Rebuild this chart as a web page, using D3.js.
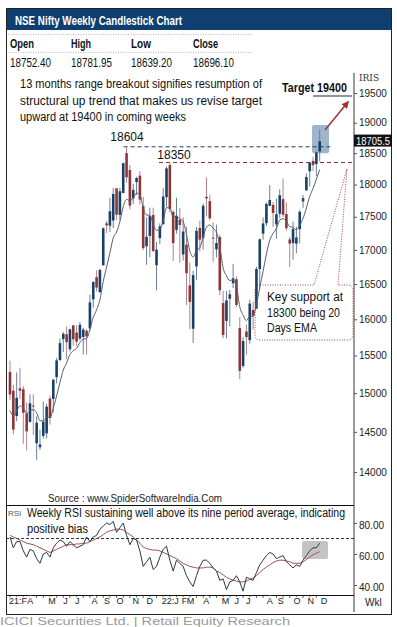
<!DOCTYPE html>
<html><head><meta charset="utf-8">
<script src="https://cdn.jsdelivr.net/npm/d3@7"></script>
<style>body{margin:0;background:#fff;overflow:hidden}svg{display:block}</style>
</head><body>
<svg id="c" width="397" height="627"></svg>
<script>
// ---- data (weekly Nifty, Feb-2021 .. Dec-2022) ----
const open = [15280,15031,14702,15064,15050,14736,14628,14837,14356,14306,
14449,14481,14928,14924,15211,15437,15725,15791,15587,15915,
15814,15733,15755,15840,15874,16281,16600,16384,16775,17400,
17363,17443,17941,17531,17867,18500,18230,17784,18040,18140,
17668,17055,17209,17528,16774,17177,17387,17804,18308,17575,
17301,17456,16933,17079,16481,15868,16757,17329,17181,17809,
17740,17183,17009,17193,16227,15977,16290,16512,16570,15877,
15360,15831,15710,16130,16151,16719,17244,17402,17669,17683,
17384,17546,17772,17541,17156,17102,17094,17311,17737,17910,
18211,18376,18326,18528];
const high = [15431,15111,15273,15336,15092,14878,14984,14984,14697,14527,
14890,14863,14967,15189,15469,15733,15823,15901,15870,15915,
15915,15962,15881,15862,16349,16543,16701,16722,17340,17436,
17793,17947,17943,17948,18350,18604,18310,18012,18123,18210,
17806,17490,17640,17639,17118,17400,17944,18286,18350,17599,
17794,17639,17490,17352,16816,16694,17345,17442,17703,18114,
17842,17414,17380,17226,16404,16400,16414,16794,16610,16030,
15750,15927,16275,16249,16752,17172,17490,17719,17992,17727,
17777,17925,18096,17722,17196,17428,17348,17607,17838,18176,
18362,18443,18534,18887];
const low = [14906,14468,14635,14919,14350,14264,14616,14460,14151,14273,
14416,14417,14592,14746,15127,15437,15550,15450,15555,15635,
15632,15707,15514,15513,15835,16163,16395,16376,16765,17254,
17269,17327,17452,17452,17865,18033,17613,17697,17836,17688,
17000,16782,16891,16966,16410,17086,17383,17655,17566,16837,
17244,16810,16844,16203,15863,15671,16556,16978,17004,17507,
17443,16825,16889,16340,15736,15735,15903,16444,16172,15183,
15335,15511,15661,15858,16143,16438,17154,17359,17668,17345,
17167,17484,17497,17291,16748,16856,16950,17098,17637,17899,
17969,18210,18133,18365];
const close = [14982,14529,14938,15031,14744,14507,14867,14834,14617,14341,
14631,14823,14677,15175,15435,15670,15799,15683,15860,15722,
15690,15923,15856,15763,16238,16529,16450,16705,17324,17369,
17585,17853,17532,17895,18339,18115,17672,17917,18102,17765,
17026,17197,17511,16985,17004,17354,17813,18256,17617,17102,
17516,17375,17276,16658,16245,16630,17287,17153,17670,17784,
17476,17172,17103,16411,15782,16266,16353,16584,16202,15294,
15699,15752,16221,16049,16719,17158,17398,17698,17758,17559,
17539,17833,17531,17327,17094,17315,17186,17576,17787,18117,
18350,18308,18513,18696];
const ema = [14770,14710,14767,14833,14811,14735,14768,14784,14742,14642,
14639,14685,14683,14806,14963,15140,15305,15400,15515,15567,
15598,15679,15723,15733,15859,16027,16133,16276,16538,16746,
16956,17180,17268,17425,17654,17769,17745,17788,17867,17841,
17637,17527,17523,17388,17292,17308,17434,17640,17634,17501,
17505,17472,17423,17232,16985,16896,16994,17034,17193,17341,
17375,17324,17269,17054,16736,16618,16552,16560,16470,16176,
16057,15981,16041,16043,16212,16449,16686,16939,17144,17248,
17321,17449,17470,17434,17349,17340,17301,17370,17474,17635,
17814,17938,18082,18236];
const rsi = [71,64,68,68,62,58,63,62,57,54,
60,61,58,64,67,69,68,65,68,66,
64,65,66,71,68,71,72,76,78,80,
79,81,74,77,80,72,66,70,69,62,
52,55,58,50,52,58,63,65,56,49,
56,54,52,46,42,39,46,52,56,56,
54,51,49,43,44,37,42,43,46,42,
36,45,44,43,48,53,56,59,61,60,
57,58,59,55,53,51,53,52,56,59,
62,64,64,67];
const rsiAvg = [72,71,70,69,68,67,66.5,66,65,64,
63,62,61,62,63,64,65,66,66,66,
66.5,66.5,67,67,68,69,70,71,72.5,74,
75,75.5,76,76,75.5,74,72.5,71,69,67,
64.5,63.5,63,62.5,62.5,62,61,60,59,58,
57,55.5,54,53,52,51.5,51,51,51,51.5,
51.5,51,49,48,46.5,45,44,43,42.5,42,
42,42.5,43.5,44.5,46,48,50,51.6,53,54.5,
55.5,56,56,55.5,55,54,54,54,55,56.5,
58,59.5,60.5,61.5];
const priceTicks = [19500,19000,18500,18000,17500,17000,16500,16000,15500,15000,14500,14000];
const rsiTicks = [80,60,40];
const monthLabels = ["21:F","A","M","J","J","A","S","O","N","D","22:J","F","M","A","M","J","J","A","S","O","N","D"];
const monthPos = [-0.3,5.2,11.5,16,19.5,24.5,28.2,32,36.8,41,45.6,51.6,53.1,58,63.6,67.4,70.9,77.1,80.4,85.1,89.3,93.3];
const ohlcHead = ["Open","High","Low","Close"];
const ohlcVals = ["18752.40","18781.95","18639.20","18696.10"];
const levels = [18604, 18350];
const lastPrice = 18705.5;

// ---- drawing ----
const svg = d3.select("#c");
const N = close.length;
const x = d3.scaleLinear().domain([0, N - 1]).range([10, 319.7]);
const y = d3.scaleLog().domain([14000, 19500]).range([472, 93]);
const yr = d3.scaleLinear().domain([40, 80]).range([585, 523]);
const F = "'Liberation Sans', Arial, sans-serif";
const FN = "'Liberation Sans Narrow','Arial Narrow','Liberation Sans',sans-serif";

function txt(s, tx, ty, size, opts = {}) {
  const t = svg.append("text").attr("x", tx).attr("y", ty).text(s)
    .attr("font-family", opts.family || F).attr("font-size", size)
    .attr("fill", opts.fill || "#111");
  if (opts.weight) t.attr("font-weight", opts.weight);
  if (opts.len) t.attr("textLength", opts.len).attr("lengthAdjust", "spacingAndGlyphs");
  if (opts.anchor) t.attr("text-anchor", opts.anchor);
  return t;
}

// title bar + frame
svg.append("rect").attr("x", 6).attr("y", 8).attr("width", 386).attr("height", 22).attr("fill", "#0e3f70");
svg.append("rect").attr("x", 6.5).attr("y", 8.5).attr("width", 385).attr("height", 606)
  .attr("fill", "none").attr("stroke", "#222").attr("stroke-width", 1);
txt("NSE Nifty Weekly Candlestick Chart", 15, 25, 12, {family: FN, weight: "bold", fill: "#fff", len: 167});

// OHLC table
[34.5, 52.5].forEach(yy => svg.append("line").attr("x1", 8).attr("x2", 253).attr("y1", yy).attr("y2", yy)
  .attr("stroke", "#bbb").attr("stroke-dasharray", "1,1.5"));
const colX = [10, 71, 131, 193];
const headW = [24, 20, 20, 25];
ohlcHead.forEach((h, i) => txt(h, colX[i], 48, 12, {family: FN, weight: "bold", len: headW[i]}));
ohlcVals.forEach((v, i) => txt(v, colX[i], 67, 12, {family: FN, len: 41}));

// highlight box around latest candles
svg.append("rect").attr("x", 312).attr("y", y(18960)).attr("width", 17).attr("height", y(18500) - y(18960))
  .attr("rx", 2).attr("fill", "#7f9cbc").attr("opacity", 0.75);

// key support callout (behind candles)
const cb = {l: 255, r: 353, t: 285, b: 340};
const tip = [347, y(18250)];
svg.append("path").attr("d",
  `M${cb.l + 5},${cb.t} L314,${cb.t} L${tip[0]},${tip[1]} L338,${cb.t} L${cb.r - 5},${cb.t} Q${cb.r},${cb.t} ${cb.r},${cb.t + 5} L${cb.r},${cb.b - 5} Q${cb.r},${cb.b} ${cb.r - 5},${cb.b} L${cb.l + 5},${cb.b} Q${cb.l},${cb.b} ${cb.l},${cb.b - 5} L${cb.l},${cb.t + 5} Q${cb.l},${cb.t} ${cb.l + 5},${cb.t} Z`)
  .attr("fill", "#fff").attr("stroke", "#a04848").attr("stroke-width", 1).attr("stroke-dasharray", "1,1.5");
txt("Key support at", 267, 301, 12, {len: 76});
txt("18300 being 20", 267, 317, 12, {len: 73});
txt("Days EMA", 267, 332, 12, {len: 50});

// level lines
svg.append("line").attr("x1", x(35) - 3).attr("x2", 330).attr("y1", y(levels[0])).attr("y2", y(levels[0]))
  .attr("stroke", "#1d3b5e").attr("stroke-width", 1).attr("stroke-dasharray", "4,3");
svg.append("line").attr("x1", 159).attr("x2", 352).attr("y1", y(levels[1])).attr("y2", y(levels[1]))
  .attr("stroke", "#8a2f2f").attr("stroke-width", 1).attr("stroke-dasharray", "4,3");
txt(String(levels[0]), 127, 141, 12, {anchor: "middle"});
txt(String(levels[1]), 174, 159, 12, {anchor: "middle"});

// candles
const idx = d3.range(N);
const bull = i => close[i] >= open[i];
const cg = svg.append("g");
cg.selectAll("line.w").data(idx).join("line")
  .attr("x1", i => x(i)).attr("x2", i => x(i))
  .attr("y1", i => y(high[i])).attr("y2", i => y(low[i]))
  .attr("stroke", i => bull(i) ? "#6a7f96" : "#ad8686").attr("stroke-width", 1);
cg.selectAll("rect.b").data(idx).join("rect")
  .attr("x", i => x(i) - 1.3).attr("width", 2.6)
  .attr("y", i => y(Math.max(open[i], close[i])))
  .attr("height", i => Math.max(1, Math.abs(y(open[i]) - y(close[i]))))
  .attr("fill", i => bull(i) ? "#1a4068" : "#8e3535");

// EMA line
svg.append("path").datum(idx).attr("fill", "none").attr("stroke", "#56606a").attr("stroke-width", 1)
  .attr("d", d3.line().x(i => x(i)).y(i => y(ema[i])).curve(d3.curveMonotoneX));

// price axis
const axX = 354;
svg.append("line").attr("x1", axX).attr("x2", axX).attr("y1", 73).attr("y2", 612).attr("stroke", "#7a7a7a").attr("stroke-width", 1.5);
const ya = svg.append("g").attr("transform", `translate(${axX},0)`)
  .call(d3.axisRight(y).tickValues(priceTicks).tickSize(3).tickPadding(2).tickFormat(d3.format("d")));
ya.select(".domain").remove();
ya.selectAll("line").attr("stroke", "#555");
ya.selectAll("text").attr("font-family", F).attr("font-size", 10).attr("fill", "#222");
txt("IRIS", 359, 81, 9, {fill: "#333", family: "'DejaVu Serif', serif"});

// last price tag
svg.append("rect").attr("x", 354).attr("y", y(lastPrice) - 6).attr("width", 38).attr("height", 12).attr("fill", "#111");
txt(String(lastPrice), 356, y(lastPrice) + 4, 10, {fill: "#fff", len: 34});

// target annotation
txt("Target 19400", 282, 92, 12, {weight: "bold", len: 65});
svg.append("line").attr("x1", 313).attr("x2", 352).attr("y1", 96).attr("y2", 96).attr("stroke", "#1a2c44").attr("stroke-width", 1);
svg.append("defs").append("marker").attr("id", "ah").attr("viewBox", "0 0 10 10").attr("refX", 8).attr("refY", 5)
  .attr("markerWidth", 5).attr("markerHeight", 5).attr("orient", "auto")
  .append("path").attr("d", "M0,0 L10,5 L0,10 Z").attr("fill", "#a13434");
svg.append("line").attr("x1", 325).attr("y1", 130).attr("x2", 348).attr("y2", 102)
  .attr("stroke", "#a13434").attr("stroke-width", 1.5).attr("marker-end", "url(#ah)");

// headline annotation
txt("13 months range breakout signifies resumption of", 20, 88, 12, {len: 242});
txt("structural up trend that makes us revise target", 20, 105, 12, {len: 242});
txt("upward at 19400 in coming weeks", 20, 121, 12, {len: 166});

// source
txt("Source : www.SpiderSoftwareIndia.Com", 48, 502, 11, {fill: "#222", len: 174});

// ---- RSI panel ----
svg.append("line").attr("x1", 6).attr("x2", axX).attr("y1", 505.5).attr("y2", 505.5).attr("stroke", "#111");
svg.append("line").attr("x1", 6).attr("x2", axX).attr("y1", 595.5).attr("y2", 595.5).attr("stroke", "#111");
svg.append("rect").attr("x", 302).attr("y", 541).attr("width", 26).attr("height", 18).attr("rx", 2).attr("fill", "#c4c4c4");
svg.append("line").attr("x1", 6).attr("x2", axX).attr("y1", yr(70)).attr("y2", yr(70))
  .attr("stroke", "#333").attr("stroke-dasharray", "3,2");
svg.append("path").datum(idx).attr("fill", "none").attr("stroke", "#9a5555").attr("stroke-width", 1)
  .attr("d", d3.line().x(i => x(i)).y(i => yr(rsiAvg[i])));
svg.append("path").datum(idx).attr("fill", "none").attr("stroke", "#2a3848").attr("stroke-width", 1)
  .attr("d", d3.line().x(i => x(i)).y(i => yr(rsi[i])));
const ra = svg.append("g").attr("transform", `translate(${axX},0)`)
  .call(d3.axisRight(yr).tickValues(rsiTicks).tickSize(3).tickPadding(2).tickFormat(d3.format(".2f")));
ra.select(".domain").remove();
ra.selectAll("line").attr("stroke", "#555");
ra.selectAll("text").attr("font-family", F).attr("font-size", 10).attr("fill", "#222").attr("dy", "0.5em");
txt("RSI", 8, 516, 8, {fill: "#555"});
txt("Weekly RSI sustaining well above its nine period average, indicating", 27, 517, 12, {len: 318});
txt("positive bias", 27, 533, 12, {len: 61});

// month axis
const mg = svg.append("g");
d3.range(0, N, 2).forEach(i => mg.append("line").attr("x1", x(i)).attr("x2", x(i)).attr("y1", 596).attr("y2", 598).attr("stroke", "#666"));
monthLabels.forEach((m, i) => {
  mg.append("text").attr("x", x(monthPos[i])).attr("y", 604).text(m)
    .attr("font-family", F).attr("font-size", 9).attr("fill", "#222")
    .attr("stroke", "#fff").attr("stroke-width", 2).attr("paint-order", "stroke");
});
txt("Wkl", 365, 606, 10, {fill: "#222"});

// footer
txt("ICICI Securities Ltd. | Retail Equity Research", 0, 625, 11, {fill: "#9a9a9a", len: 290});
</script>
</body></html>
